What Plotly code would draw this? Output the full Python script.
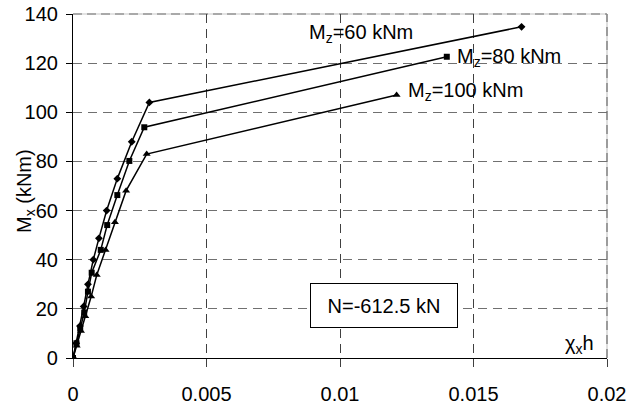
import plotly.graph_objects as go

# Data
mz60_x = [0, 0.00012, 0.00026, 0.0004, 0.00056, 0.00076, 0.00097, 0.00126, 0.00166, 0.0022, 0.00286, 0.0168]
mz60_y = [0, 6, 13, 21, 30, 40, 48.7, 60, 73, 88, 104, 134.8]

mz80_x = [0, 0.00013, 0.00027, 0.00042, 0.00056, 0.0007, 0.00104, 0.00128, 0.00166, 0.00211, 0.00267, 0.0140]
mz80_y = [0, 6, 12, 18.5, 27, 34.7, 44, 54.1, 66.3, 80.2, 93.9, 122.6]

mz100_x = [0, 0.00014, 0.0003, 0.00046, 0.00068, 0.00089, 0.00122, 0.00157, 0.00199, 0.00276, 0.01212]
mz100_y = [0, 5, 11, 17, 25, 33.8, 44, 55.2, 68.1, 83, 107]

series_names = ["M<sub>z</sub>=60 kNm", "M<sub>z</sub>=80 kNm", "M<sub>z</sub>=100 kNm"]
x_ticks = [0, 0.005, 0.01, 0.015, 0.02]
x_tick_labels = ["0", "0.005", "0.01", "0.015", "0.02"]
y_ticks = [0, 20, 40, 60, 80, 100, 120, 140]

FONT = "Liberation Sans, Arial, sans-serif"
FS = 20

# plot area in pixels
L, R, T, B = 73, 607, 14, 358
W, H = 627, 410
PW, PH = R - L, B - T


def px(xp):
    return (xp - L) / PW


def py(yp):
    return 1 - (yp - T) / PH


fig = go.Figure()
fig.add_trace(go.Scatter(x=mz60_x, y=mz60_y, mode="lines+markers",
                         line=dict(color="black", width=1.5),
                         marker=dict(symbol="diamond", size=6, color="black"),
                         name=series_names[0]))
fig.add_trace(go.Scatter(x=mz80_x, y=mz80_y, mode="lines+markers",
                         line=dict(color="black", width=1.5),
                         marker=dict(symbol="square", size=6, color="black"),
                         name=series_names[1]))
fig.add_trace(go.Scatter(x=mz100_x, y=mz100_y, mode="lines+markers",
                         line=dict(color="black", width=1.5),
                         marker=dict(symbol="triangle-up", size=7, color="black"),
                         name=series_names[2]))

# border lines (top and right): light gray with darker dashes
for sh in [dict(x0=0, x1=1, y0=1, y1=1), dict(x0=1, x1=1, y0=0, y1=1)]:
    fig.add_shape(type="line", xref="paper", yref="paper", layer="below",
                  line=dict(color="#c8c8c8", width=1.2), **sh)
    fig.add_shape(type="line", xref="paper", yref="paper", layer="below",
                  line=dict(color="#707070", width=1.2, dash="9px,5px"), **sh)

ann_font = dict(family=FONT, size=FS, color="black")
fig.add_annotation(x=0.00876, y=131.9, xref="x", yref="y", text=series_names[0],
                   showarrow=False, xanchor="left", yanchor="middle", font=ann_font)
fig.add_annotation(x=0.01431, y=122.5, xref="x", yref="y", text=series_names[1],
                   showarrow=False, xanchor="left", yanchor="middle", font=ann_font)
fig.add_annotation(x=0.01247, y=108.3, xref="x", yref="y", text=series_names[2],
                   showarrow=False, xanchor="left", yanchor="middle", font=ann_font)

# N box
fig.add_annotation(x=px(384), y=py(305.5), xref="paper", yref="paper",
                   text="N=-612.5 kN", showarrow=False, xanchor="center", yanchor="middle",
                   font=ann_font, bgcolor="white", bordercolor="black", borderwidth=1,
                   width=144, height=41)

# x axis title inside plot
fig.add_annotation(x=px(596), y=py(344), xref="paper", yref="paper",
                   text="χ<sub>x</sub>h", showarrow=False, xanchor="right", yanchor="middle",
                   font=ann_font)

# y axis title
fig.add_annotation(x=px(25), y=py(191), xref="paper", yref="paper",
                   text="M<sub>x</sub> (kNm)", showarrow=False, textangle=-90,
                   xanchor="center", yanchor="middle", font=ann_font)

fig.update_layout(
    width=W, height=H,
    margin=dict(l=L, r=W - R, t=T, b=H - B),
    paper_bgcolor="white", plot_bgcolor="white",
    showlegend=False,
    font=dict(family=FONT, size=FS, color="black"),
    xaxis=dict(range=[0, 0.02], tickvals=x_ticks, ticktext=x_tick_labels,
               showline=True, linecolor="black", linewidth=1.2,
               ticks="outside", ticklen=8, tickcolor="#404040", tickwidth=1.2,
               showgrid=True, gridcolor="#404040", gridwidth=1.2, griddash="9px,6px",
               zeroline=False, ticklabelstandoff=10, automargin=False,
               tickfont=dict(family=FONT, size=FS, color="black")),
    yaxis=dict(range=[0, 140], tickvals=y_ticks,
               showline=True, linecolor="black", linewidth=1.2,
               ticks="outside", ticklen=6, tickcolor="black", tickwidth=1.2,
               showgrid=True, gridcolor="#707070", gridwidth=1.2, griddash="9px,6px",
               zeroline=False, ticklabelstandoff=4, automargin=False,
               tickfont=dict(family=FONT, size=FS, color="black")),
)

fig.write_html("out.html")
